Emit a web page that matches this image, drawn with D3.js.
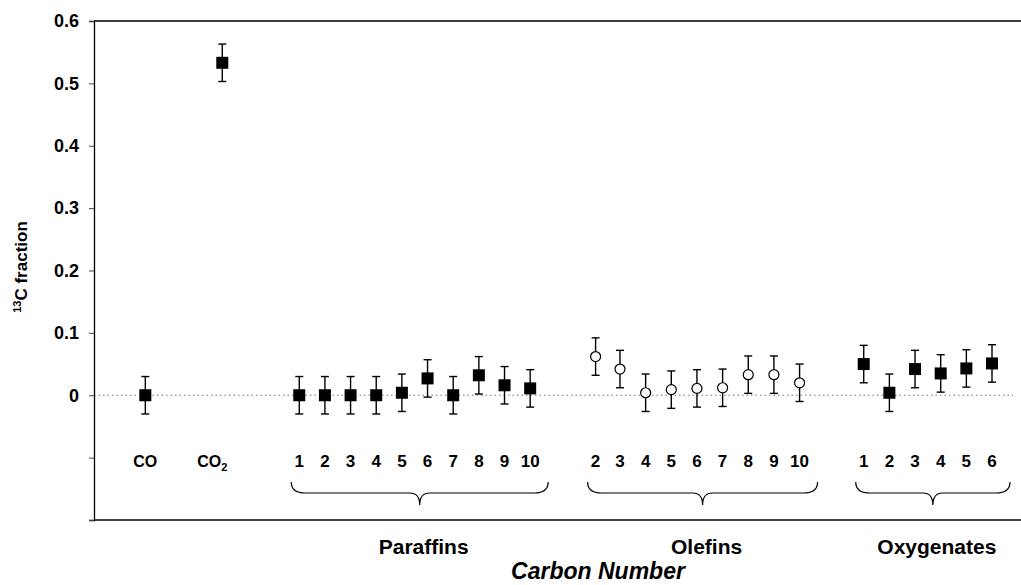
<!DOCTYPE html>
<html>
<head>
<meta charset="utf-8">
<script src="https://cdn.jsdelivr.net/npm/d3@7/dist/d3.min.js"></script>
<style>
  body { margin: 0; background: #fff; }
  svg { display: block; font-family: "Liberation Sans", Arial, sans-serif; }
  .tick-label { font-size: 18px; font-weight: bold; }
</style>
</head>
<body>
<div id="chart"></div>
<script>
// slot index on the x axis for every point
const inorganicSlots = [0, 3]
const inorganicLabels = ["CO", "CO2"]
const inorganicValues = [0, 0.533]

const paraffinSlots = [6, 7, 8, 9, 10, 11, 12, 13, 14, 15]
const paraffinLabels = ["1", "2", "3", "4", "5", "6", "7", "8", "9", "10"]
const paraffinValues = [0, 0, 0, 0, 0.004, 0.027, 0, 0.032, 0.016, 0.011]

const olefinSlots = [17.55, 18.5, 19.5, 20.5, 21.5, 22.5, 23.5, 24.5, 25.5]
const olefinLabels = ["2", "3", "4", "5", "6", "7", "8", "9", "10"]
const olefinValues = [0.062, 0.042, 0.004, 0.009, 0.011, 0.012, 0.033, 0.033, 0.02]

const oxygenateSlots = [28, 29, 30, 31, 32, 33]
const oxygenateLabels = ["1", "2", "3", "4", "5", "6"]
const oxygenateValues = [0.05, 0.004, 0.042, 0.035, 0.043, 0.051]

const errorHalf = 0.03

const groupNames = ["Paraffins", "Olefins", "Oxygenates"]
const yTicks = [-0.2, -0.1, 0, 0.1, 0.2, 0.3, 0.4, 0.5, 0.6]

const width = 1021, height = 585
const plotLeft = 94, plotTop = 21, plotBottom = 520

const svg = d3.select("#chart").append("svg")
    .attr("width", width).attr("height", height)

const x = d3.scaleLinear().domain([-2, 34.13]).range([plotLeft, width])
const y = d3.scaleLinear().domain([-0.2, 0.6]).range([plotBottom, plotTop])

// zero reference line
svg.append("line")
    .attr("x1", plotLeft).attr("x2", width - 8)
    .attr("y1", y(0)).attr("y2", y(0))
    .attr("stroke", "#777").attr("stroke-width", 1)
    .attr("stroke-dasharray", "1.5,3")

// frame: left axis, top and bottom lines
const yAxis = d3.axisLeft(y)
    .tickValues(yTicks)
    .tickSize(5)
    .tickFormat(d => d < 0 ? "" : (d === 0 ? "0" : d3.format(".1f")(d)))
svg.append("g")
    .attr("transform", `translate(${plotLeft},0)`)
    .call(yAxis)
    .call(g => g.select(".domain").attr("stroke", "#000").attr("stroke-width", 1.3))
    .call(g => g.selectAll(".tick line").attr("stroke", "#444"))
    .call(g => g.selectAll(".tick text")
        .attr("class", "tick-label")
        .attr("x", -15)
        .attr("fill", "#000")
        .style("font-family", "Liberation Sans, Arial, sans-serif"))

svg.append("line").attr("x1", plotLeft).attr("x2", width)
    .attr("y1", plotTop).attr("y2", plotTop).attr("stroke", "#000").attr("stroke-width", 1.5)
svg.append("line").attr("x1", plotLeft).attr("x2", width)
    .attr("y1", plotBottom).attr("y2", plotBottom).attr("stroke", "#000").attr("stroke-width", 1.5)

// y axis title
const yTitle = svg.append("text")
    .attr("transform", `translate(27,267) rotate(-90)`)
    .attr("text-anchor", "middle")
    .style("font-size", "17px").style("font-weight", "bold")
yTitle.append("tspan").text("13").style("font-size", "11px").attr("dy", -6)
yTitle.append("tspan").text("C fraction").attr("dy", 6)

const series = [
    {slots: inorganicSlots, values: inorganicValues, open: false},
    {slots: paraffinSlots, values: paraffinValues, open: false},
    {slots: olefinSlots, values: olefinValues, open: true},
    {slots: oxygenateSlots, values: oxygenateValues, open: false}
]

series.forEach(s => {
    const pts = s.slots.map((slot, i) => ({slot, v: s.values[i]}))
    const g = svg.append("g")
    const eb = g.selectAll("g.err").data(pts).join("g")
    eb.append("line")
        .attr("x1", d => x(d.slot)).attr("x2", d => x(d.slot))
        .attr("y1", d => y(d.v - errorHalf)).attr("y2", d => y(d.v + errorHalf))
        .attr("stroke", "#000").attr("stroke-width", 1.4)
    ;[-1, 1].forEach(sgn => {
        eb.append("line")
            .attr("x1", d => x(d.slot) - 4).attr("x2", d => x(d.slot) + 4)
            .attr("y1", d => y(d.v + sgn * errorHalf)).attr("y2", d => y(d.v + sgn * errorHalf))
            .attr("stroke", "#000").attr("stroke-width", 1.4)
    })
    if (s.open) {
        g.selectAll("circle").data(pts).join("circle")
            .attr("cx", d => x(d.slot)).attr("cy", d => y(d.v))
            .attr("r", 5).attr("fill", "#fff").attr("stroke", "#000").attr("stroke-width", 1.2)
    } else {
        g.selectAll("rect").data(pts).join("rect")
            .attr("x", d => x(d.slot) - 6).attr("y", d => y(d.v) - 6)
            .attr("width", 12).attr("height", 12).attr("fill", "#000")
    }
})

// category labels under the points
const labelY = 467
const cat = svg.append("g")
    .style("font-size", "17px").style("font-weight", "bold")
    .attr("text-anchor", "middle")
inorganicSlots.forEach((slot, i) => {
    const t = cat.append("text").attr("x", x(slot) + (i === 1 ? -10 : 0)).attr("y", labelY)
        .style("font-size", "16px")
    if (inorganicLabels[i] === "CO2") {
        t.append("tspan").text("CO")
        t.append("tspan").text("2").style("font-size", "11px").attr("dy", 4)
    } else {
        t.text(inorganicLabels[i])
    }
})
const groups = [
    {slots: paraffinSlots, labels: paraffinLabels},
    {slots: olefinSlots, labels: olefinLabels},
    {slots: oxygenateSlots, labels: oxygenateLabels}
]
groups.forEach((grp, gi) => {
    grp.slots.forEach((slot, i) => {
        cat.append("text").attr("x", x(slot)).attr("y", labelY).text(grp.labels[i])
    })
    // curly brace under the group
    const x0 = x(d3.min(grp.slots)) - 8, x1 = x(d3.max(grp.slots)) + 18
    const xm = (x0 + x1) / 2
    const yt = 482, ym = 493, ytip = 505
    const p = d3.path()
    p.moveTo(x0, yt)
    p.quadraticCurveTo(x0, ym, x0 + 14, ym)
    p.lineTo(xm - 10, ym)
    p.quadraticCurveTo(xm, ym, xm, ytip)
    p.quadraticCurveTo(xm, ym, xm + 10, ym)
    p.lineTo(x1 - 14, ym)
    p.quadraticCurveTo(x1, ym, x1, yt)
    svg.append("path").attr("d", p.toString())
        .attr("fill", "none").attr("stroke", "#000").attr("stroke-width", 1.2)
    svg.append("text").attr("x", xm + 4).attr("y", 554)
        .attr("text-anchor", "middle")
        .style("font-size", "21px").style("font-weight", "bold")
        .text(groupNames[gi])
})

// x axis title
svg.append("text").attr("x", 598).attr("y", 579)
    .attr("text-anchor", "middle")
    .style("font-size", "23px").style("font-weight", "bold").style("font-style", "italic")
    .text("Carbon Number")
</script>
</body>
</html>
